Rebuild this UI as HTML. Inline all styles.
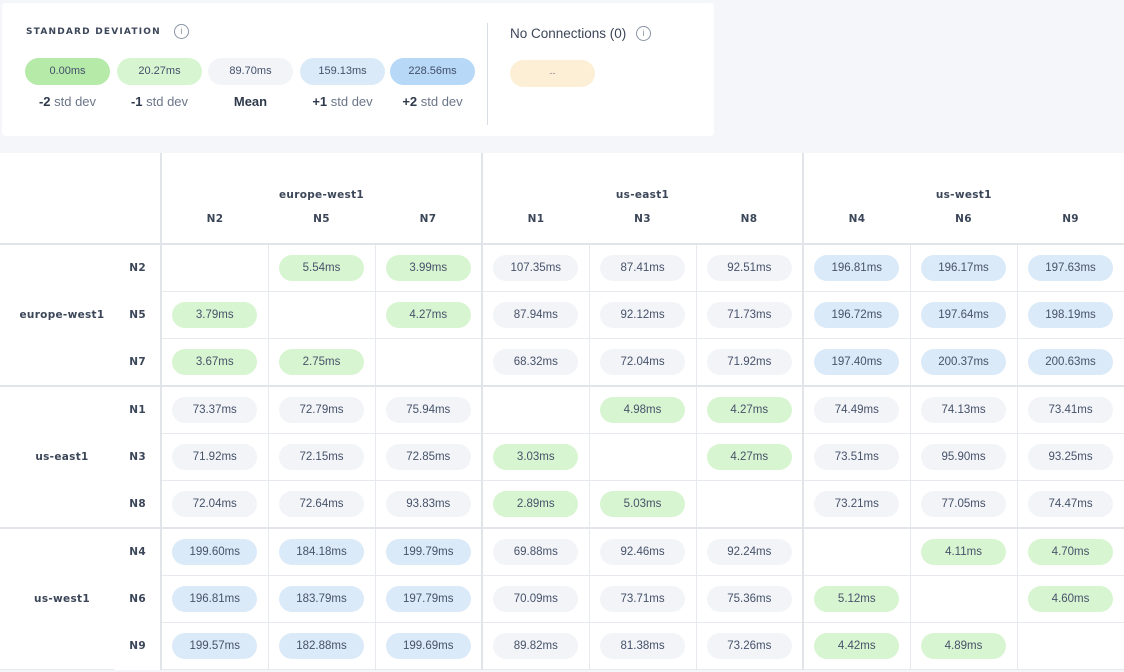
<!DOCTYPE html>
<html><head><meta charset="utf-8"><style>
body{margin:0;width:1124px;height:672px;background:#f4f6f9;font-family:"Liberation Sans",sans-serif;overflow:hidden;position:relative;color:#3b4a5e}
.card{position:absolute;left:2px;top:3px;width:712px;height:133px;background:#fff;border-radius:4px}
.title{position:absolute;left:24px;top:24px;font-family:"DejaVu Sans",sans-serif;font-size:9px;font-weight:bold;letter-spacing:1.2px;color:#3b4658}
.info{position:absolute;width:13px;height:13px;border:1.2px solid #8a94a4;border-radius:50%;font-size:9px;line-height:13px;text-align:center;color:#8a94a4}
.lp{position:absolute;top:55px;width:85px;height:27px;border-radius:14px;font-size:11px;line-height:27px;text-align:center;color:#43506a}
.ll{position:absolute;top:91px;width:85px;text-align:center;font-size:13px;color:#6b7688}
.ll b{color:#2e3a4c}
.sep{position:absolute;left:485px;top:20px;width:1px;height:102px;background:#d8dde3}
.tcard{position:absolute;left:0;top:153px;width:1124px;height:516px;background:#fff}
table{position:absolute;left:0;top:153px;border-collapse:collapse;table-layout:fixed;width:1124px}
td{border:1px solid #e6e9ee;height:46px;padding:0;text-align:center;vertical-align:middle}
.h td{border-top:none}
.h1 td{height:48px;border-bottom:none;vertical-align:bottom;padding-bottom:6px}
.h2 td{height:30px;vertical-align:top;padding-top:6px;border-bottom:2px solid #e1e5ea}
.hd{font-family:"DejaVu Sans",sans-serif;font-weight:bold;font-size:10.5px;color:#3b4658;letter-spacing:0.3px}
td.g{border-left:2px solid #e1e5ea}
tr.gs td{border-top:2px solid #e1e5ea}
td.rh{border-left:none;border-right:none;border-top-color:#fff;border-bottom-color:#fff;text-align:right;padding-right:14px}
tr.gs td.rh{border-top:2px solid #e1e5ea}
td.rg{border-left:none;border-right:none;text-align:center;padding-left:10px}
.p{display:inline-block;width:85px;height:26px;border-radius:13px;line-height:26px;font-size:11.5px;color:#46526a}
.gr{background:#d8f5d1}.gy{background:#f2f4f7}.bl{background:#dbeaf8}
</style></head><body>
<div class="card">
<div class="title">STANDARD DEVIATION</div>
<div class="info" style="left:172px;top:21px">i</div>
<div class="lp" style="left:23px;background:#b6eaa9">0.00ms</div>
<div class="lp" style="left:115px;background:#d8f5d1">20.27ms</div>
<div class="lp" style="left:206px;background:#f2f4f7">89.70ms</div>
<div class="lp" style="left:298px;background:#dbeaf8">159.13ms</div>
<div class="lp" style="left:388px;background:#b8d8f7">228.56ms</div>
<div class="ll" style="left:23px"><b>-2</b> std dev</div>
<div class="ll" style="left:115px"><b>-1</b> std dev</div>
<div class="ll" style="left:206px"><b>Mean</b></div>
<div class="ll" style="left:298px"><b>+1</b> std dev</div>
<div class="ll" style="left:388px"><b>+2</b> std dev</div>
<div class="sep"></div>
<div style="position:absolute;left:508px;top:23px;font-size:13.5px;color:#3b4658">No Connections (0)</div>
<div class="info" style="left:634px;top:23px">i</div>
<div class="lp" style="left:508px;top:57px;background:#fcefd6;color:#8a8a8a;font-size:9px">--</div>
</div>
<div class="tcard"></div>
<table>
<colgroup><col style="width:114px"><col style="width:47px"><col style="width:107px"><col style="width:107px"><col style="width:107px"><col style="width:107px"><col style="width:107px"><col style="width:107px"><col style="width:107px"><col style="width:107px"><col style="width:107px"></colgroup>
<tr class="h h1"><td colspan="2" rowspan="2" style="border-left:none;border-bottom:2px solid #e1e5ea"></td><td colspan="3" class="g hd">europe-west1</td><td colspan="3" class="g hd">us-east1</td><td colspan="3" class="g hd">us-west1</td></tr>
<tr class="h h2"><td class="g hd" style="border-right:none">N2</td><td class="hd" style="border-left:none;border-right:none">N5</td><td class="hd" style="border-left:none">N7</td><td class="g hd" style="border-right:none">N1</td><td class="hd" style="border-left:none;border-right:none">N3</td><td class="hd" style="border-left:none">N8</td><td class="g hd" style="border-right:none">N4</td><td class="hd" style="border-left:none;border-right:none">N6</td><td class="hd" style="border-left:none;border-right:none">N9</td></tr>
<tr><td class="rg hd" rowspan="3">europe-west1</td><td class="rh hd">N2</td><td class="g"></td><td><span class="p gr">5.54ms</span></td><td><span class="p gr">3.99ms</span></td><td class="g"><span class="p gy">107.35ms</span></td><td><span class="p gy">87.41ms</span></td><td><span class="p gy">92.51ms</span></td><td class="g"><span class="p bl">196.81ms</span></td><td><span class="p bl">196.17ms</span></td><td><span class="p bl">197.63ms</span></td></tr>
<tr><td class="rh hd">N5</td><td class="g"><span class="p gr">3.79ms</span></td><td></td><td><span class="p gr">4.27ms</span></td><td class="g"><span class="p gy">87.94ms</span></td><td><span class="p gy">92.12ms</span></td><td><span class="p gy">71.73ms</span></td><td class="g"><span class="p bl">196.72ms</span></td><td><span class="p bl">197.64ms</span></td><td><span class="p bl">198.19ms</span></td></tr>
<tr><td class="rh hd">N7</td><td class="g"><span class="p gr">3.67ms</span></td><td><span class="p gr">2.75ms</span></td><td></td><td class="g"><span class="p gy">68.32ms</span></td><td><span class="p gy">72.04ms</span></td><td><span class="p gy">71.92ms</span></td><td class="g"><span class="p bl">197.40ms</span></td><td><span class="p bl">200.37ms</span></td><td><span class="p bl">200.63ms</span></td></tr>
<tr class="gs"><td class="rg hd" rowspan="3">us-east1</td><td class="rh hd">N1</td><td class="g"><span class="p gy">73.37ms</span></td><td><span class="p gy">72.79ms</span></td><td><span class="p gy">75.94ms</span></td><td class="g"></td><td><span class="p gr">4.98ms</span></td><td><span class="p gr">4.27ms</span></td><td class="g"><span class="p gy">74.49ms</span></td><td><span class="p gy">74.13ms</span></td><td><span class="p gy">73.41ms</span></td></tr>
<tr><td class="rh hd">N3</td><td class="g"><span class="p gy">71.92ms</span></td><td><span class="p gy">72.15ms</span></td><td><span class="p gy">72.85ms</span></td><td class="g"><span class="p gr">3.03ms</span></td><td></td><td><span class="p gr">4.27ms</span></td><td class="g"><span class="p gy">73.51ms</span></td><td><span class="p gy">95.90ms</span></td><td><span class="p gy">93.25ms</span></td></tr>
<tr><td class="rh hd">N8</td><td class="g"><span class="p gy">72.04ms</span></td><td><span class="p gy">72.64ms</span></td><td><span class="p gy">93.83ms</span></td><td class="g"><span class="p gr">2.89ms</span></td><td><span class="p gr">5.03ms</span></td><td></td><td class="g"><span class="p gy">73.21ms</span></td><td><span class="p gy">77.05ms</span></td><td><span class="p gy">74.47ms</span></td></tr>
<tr class="gs"><td class="rg hd" rowspan="3">us-west1</td><td class="rh hd">N4</td><td class="g"><span class="p bl">199.60ms</span></td><td><span class="p bl">184.18ms</span></td><td><span class="p bl">199.79ms</span></td><td class="g"><span class="p gy">69.88ms</span></td><td><span class="p gy">92.46ms</span></td><td><span class="p gy">92.24ms</span></td><td class="g"></td><td><span class="p gr">4.11ms</span></td><td><span class="p gr">4.70ms</span></td></tr>
<tr><td class="rh hd">N6</td><td class="g"><span class="p bl">196.81ms</span></td><td><span class="p bl">183.79ms</span></td><td><span class="p bl">197.79ms</span></td><td class="g"><span class="p gy">70.09ms</span></td><td><span class="p gy">73.71ms</span></td><td><span class="p gy">75.36ms</span></td><td class="g"><span class="p gr">5.12ms</span></td><td></td><td><span class="p gr">4.60ms</span></td></tr>
<tr><td class="rh hd">N9</td><td class="g"><span class="p bl">199.57ms</span></td><td><span class="p bl">182.88ms</span></td><td><span class="p bl">199.69ms</span></td><td class="g"><span class="p gy">89.82ms</span></td><td><span class="p gy">81.38ms</span></td><td><span class="p gy">73.26ms</span></td><td class="g"><span class="p gr">4.42ms</span></td><td><span class="p gr">4.89ms</span></td><td></td></tr>
</table>
</body></html>
